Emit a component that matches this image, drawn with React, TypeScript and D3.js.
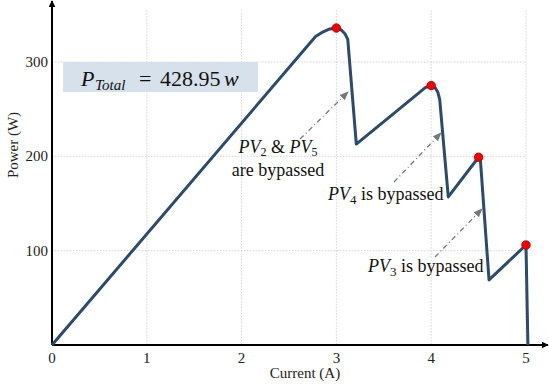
import React from "react";
import * as d3 from "d3";

// P-V curve (current in A, power in W)
const current = [0, 2.78, 2.86, 2.93, 3.0, 3.05, 3.09, 3.12, 3.21, 3.88, 3.94, 4.0, 4.04, 4.07, 4.09, 4.18, 4.5, 4.52, 4.61, 5.0, 5.02];
const power = [0, 327, 332, 335, 336, 334, 330, 324, 213, 268, 273, 275, 273, 268, 260, 157, 199, 195, 69, 106, 0];

// maximum power points (red dots)
const peakCurrent = [3.0, 4.0, 4.5, 5.0];
const peakPower = [336, 275, 199, 106];

const xTicks = [0, 1, 2, 3, 4, 5];
const yTicks = [100, 200, 300];

const W = 549, H = 386;
const serif = "Liberation Serif, DejaVu Serif, serif";

export default function App() {
  const x = d3.scaleLinear().domain([0, 5]).range([52, 526]);
  const y = d3.scaleLinear().domain([0, 300]).range([345, 62]);
  const gridTop = y(355);

  const pts: [number, number][] = current.map((c, i) => [c, power[i]]);
  const line = d3.line<[number, number]>()
    .x(d => x(d[0]))
    .y(d => y(d[1]));

  return (
    <svg width={W} height={H} style={{ position: "absolute", left: 0, top: 0 }} fontFamily={serif}>
      <defs>
        <marker id="axArrow" viewBox="0 0 10 10" refX="9" refY="5" markerWidth="7" markerHeight="7" orient="auto" markerUnits="userSpaceOnUse">
          <path d="M0,0 L10,5 L0,10 z" fill="#000" />
        </marker>
        <marker id="noteArrow" viewBox="0 0 10 10" refX="9" refY="5" markerWidth="9" markerHeight="9" orient="auto" markerUnits="userSpaceOnUse">
          <path d="M0,1 L10,5 L0,9 z" fill="#777" />
        </marker>
      </defs>

      {/* grid */}
      {xTicks.filter(t => t > 0).map(t => (
        <line key={"gx" + t} x1={x(t)} x2={x(t)} y1={gridTop} y2={y(0)} stroke="#d4d4d4" strokeWidth={1} strokeDasharray="1.5,1.5" />
      ))}
      {yTicks.map(t => (
        <line key={"gy" + t} x1={x(0)} x2={x(5)} y1={y(t)} y2={y(t)} stroke="#d4d4d4" strokeWidth={1} strokeDasharray="1.5,1.5" />
      ))}

      {/* axes */}
      <line x1={x(0)} y1={y(0)} x2={x(0)} y2={1} stroke="#000" strokeWidth={2} markerEnd="url(#axArrow)" />
      <line x1={x(0)} y1={y(0)} x2={548} y2={y(0)} stroke="#000" strokeWidth={2} markerEnd="url(#axArrow)" />

      {xTicks.map(t => (
        <text key={"tx" + t} x={x(t)} y={y(0) + 18} textAnchor="middle" fontSize={15} fill="#222">{t}</text>
      ))}
      {yTicks.map(t => (
        <text key={"ty" + t} x={x(0) - 4} y={y(t) + 5} textAnchor="end" fontSize={15} fill="#222">{t}</text>
      ))}

      <text x={305} y={378} textAnchor="middle" fontSize={15} fill="#222">Current (A)</text>
      <text transform="translate(18,145) rotate(-90)" textAnchor="middle" fontSize={15} fill="#222">Power (W)</text>

      {/* curve */}
      <path d={line(pts) ?? ""} fill="none" stroke="#2c4a6a" strokeWidth={3} strokeLinejoin="round" />
      {peakCurrent.map((c, i) => (
        <circle key={"pk" + i} cx={x(c)} cy={y(peakPower[i])} r={4.3} fill="#ee0000" stroke="#b00000" strokeWidth={0.8} />
      ))}

      {/* total power box */}
      <rect x={63} y={62} width={195} height={30} fill="#d6e1eb" />
      <text y={86} fontSize={22} fill="#111">
        <tspan x={81} fontStyle="italic">P</tspan>
        <tspan x={95} fontStyle="italic" fontSize={15} dy={4}>Total</tspan>
        <tspan x={139} dy={-4}>=</tspan>
        <tspan x={160}>428.95</tspan>
        <tspan x={224} fontStyle="italic">w</tspan>
      </text>

      {/* annotations */}
      <line x1={300} y1={139} x2={348} y2={92} stroke="#777" strokeWidth={1.3} strokeDasharray="5,3,1,3" markerEnd="url(#noteArrow)" />
      <line x1={394} y1={182} x2={441} y2={133} stroke="#777" strokeWidth={1.3} strokeDasharray="5,3,1,3" markerEnd="url(#noteArrow)" />
      <line x1={435} y1={257} x2={482} y2={209} stroke="#777" strokeWidth={1.3} strokeDasharray="5,3,1,3" markerEnd="url(#noteArrow)" />

      <text x={278} y={153} textAnchor="middle" fontSize={18} fill="#111">
        <tspan fontStyle="italic">PV</tspan><tspan fontSize={12} dy={3}>2</tspan>
        <tspan dy={-3}>{" & "}</tspan>
        <tspan fontStyle="italic">PV</tspan><tspan fontSize={12} dy={3}>5</tspan>
      </text>
      <text x={278} y={176} textAnchor="middle" fontSize={18} fill="#111">are bypassed</text>

      <text x={328} y={200} fontSize={18} fill="#111">
        <tspan fontStyle="italic">PV</tspan><tspan fontSize={13} dy={4}>4</tspan>
        <tspan dy={-4}>{" is bypassed"}</tspan>
      </text>
      <text x={368} y={272} fontSize={18} fill="#111">
        <tspan fontStyle="italic">PV</tspan><tspan fontSize={13} dy={4}>3</tspan>
        <tspan dy={-4}>{" is bypassed"}</tspan>
      </text>
    </svg>
  );
}
